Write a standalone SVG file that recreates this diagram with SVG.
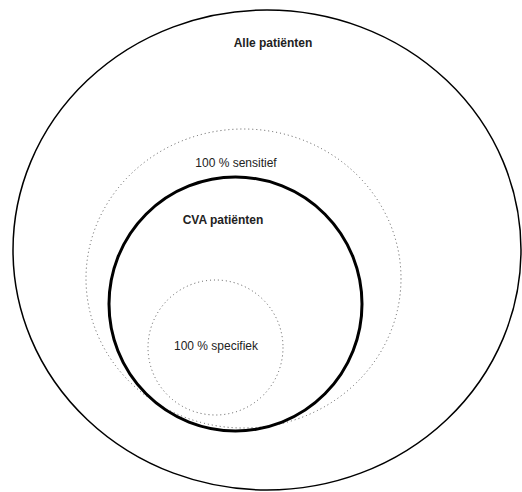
<svg xmlns="http://www.w3.org/2000/svg" width="522" height="492" viewBox="0 0 522 492">
  <style>
    .solid { fill: none; stroke: #000; }
    .dotted { fill: none; stroke: #555; stroke-width: 1; stroke-dasharray: 1 3; }
    .lbl { font-family: "Liberation Sans", Arial, sans-serif; font-size: 12px; fill: #222; text-anchor: middle; }
    .bold { font-weight: bold; }
  </style>
  <rect width="522" height="492" fill="#fff"/>
  <g id="alle-patienten">
    <ellipse class="solid" cx="267" cy="250" rx="254" ry="240" stroke-width="1.5"/>
    <text class="lbl bold" x="273" y="47">Alle patiënten</text>
  </g>
  <g id="sensitief">
    <ellipse class="dotted" cx="243.5" cy="278.5" rx="157.5" ry="149.5"/>
    <text class="lbl" x="236" y="167">100 % sensitief</text>
  </g>
  <g id="cva-patienten">
    <ellipse class="solid" cx="235.5" cy="304" rx="126.5" ry="127" stroke-width="3"/>
    <text class="lbl bold" x="223" y="224">CVA patiënten</text>
  </g>
  <g id="specifiek">
    <circle class="dotted" cx="215.5" cy="347.5" r="67.5"/>
    <text class="lbl" x="216" y="350">100 % specifiek</text>
  </g>
  <g id="connectors"/>
</svg>
